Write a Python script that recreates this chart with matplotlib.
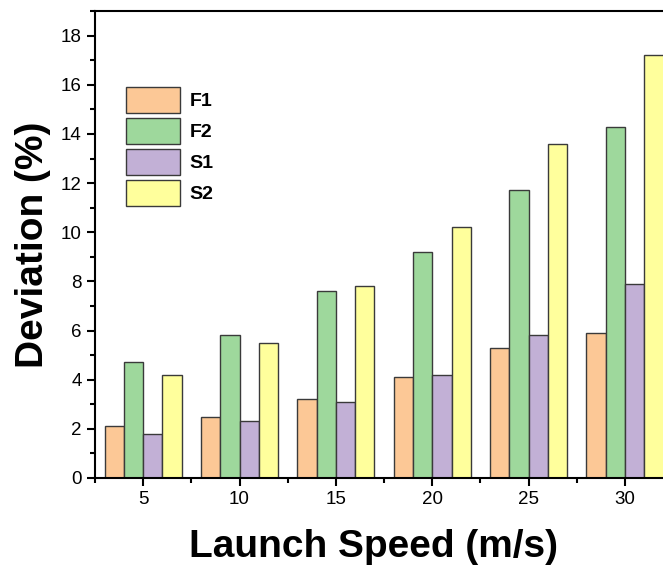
import numpy as np
import matplotlib.pyplot as plt
from matplotlib.ticker import MultipleLocator

plt.rcParams['font.family'] = ['Liberation Sans', 'DejaVu Sans']

# data
speeds = [5, 10, 15, 20, 25, 30]
F1 = [2.1, 2.5, 3.2, 4.1, 5.3, 5.9]
F2 = [4.7, 5.8, 7.6, 9.2, 11.7, 14.3]
S1 = [1.8, 2.3, 3.1, 4.2, 5.8, 7.9]
S2 = [4.2, 5.5, 7.8, 10.2, 13.6, 17.2]
labels = ['F1', 'F2', 'S1', 'S2']
colors = ['#FCC896', '#9ED89C', '#C2B0D6', '#FFFF9C']

fig = plt.figure(figsize=(6.63, 5.68), dpi=100)
ax = fig.add_axes([0.1433, 0.1585, 0.872, 0.822])

x = np.array(speeds, dtype=float)
w = 1.0
for i, (vals, lab, c) in enumerate(zip([F1, F2, S1, S2], labels, colors)):
    ax.bar(x + (i - 1.5) * w, vals, width=w, color=c, edgecolor='#3a3a3a',
           linewidth=1.0, label=lab)

ax.set_xlim(2.5, 32.5)
ax.set_ylim(0, 19)
ax.set_xticks(speeds)
ax.xaxis.set_minor_locator(MultipleLocator(2.5))
ax.yaxis.set_major_locator(MultipleLocator(2))
ax.yaxis.set_minor_locator(MultipleLocator(1))
ax.tick_params(which='major', direction='out', length=6, width=1.5, labelsize=13.5)
ax.tick_params(which='minor', direction='out', length=3.5, width=1.5)
for s in ax.spines.values():
    s.set_linewidth(1.5)

ax.set_xlabel('Launch Speed (m/s)', fontsize=28, fontweight='bold', labelpad=15)
ax.xaxis.label.set_x(0.481)
ax.set_ylabel('Deviation (%)', fontsize=28, fontweight='bold', labelpad=7)

ax.legend(loc='upper left', bbox_to_anchor=(0.054, 0.837), frameon=False,
          borderpad=0, borderaxespad=0, handlelength=2.75, handleheight=1.67,
          labelspacing=0.26, handletextpad=0.5,
          prop={'size': 14, 'weight': 'bold'})

plt.savefig('out.png')
